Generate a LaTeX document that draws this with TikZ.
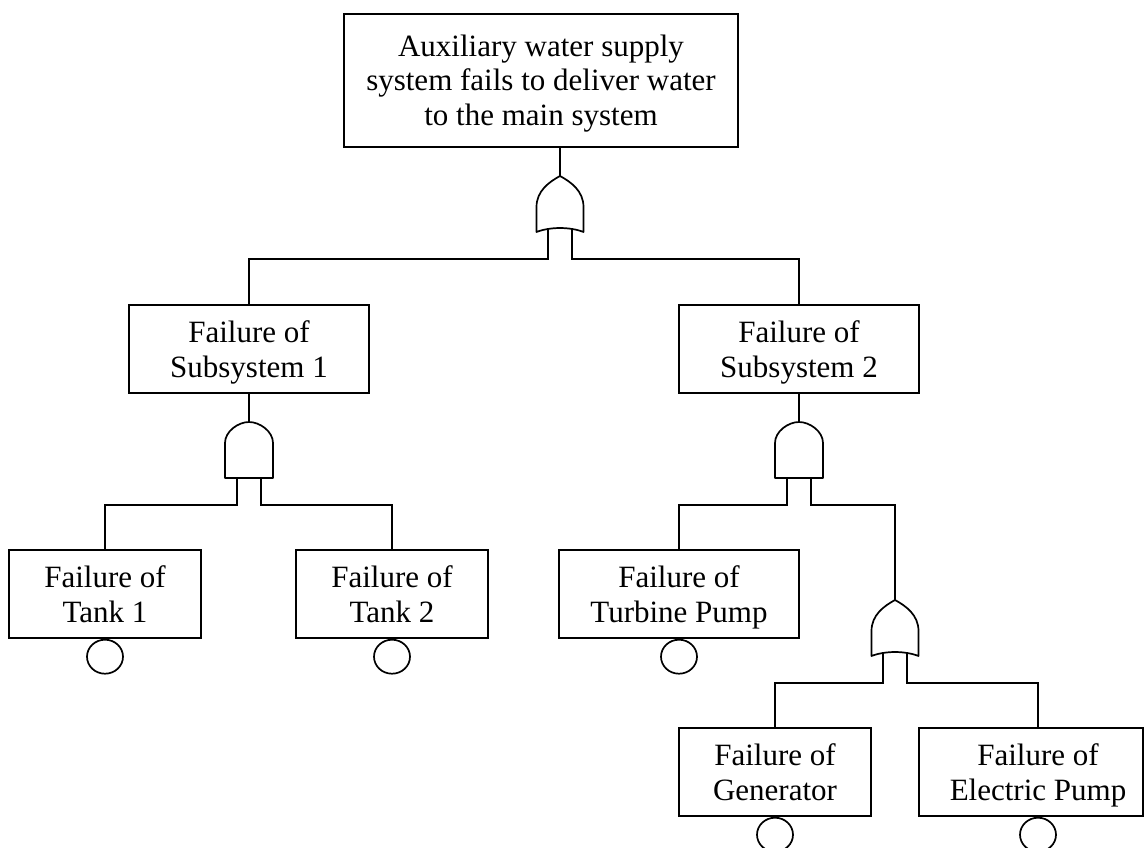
\documentclass[tikz,border=0pt]{standalone}
\usepackage{fontspec}
\setmainfont{Liberation Serif}
\usetikzlibrary{shapes.geometric}
\newcommand{\ls}{\rule[-7pt]{0pt}{35pt}}
\tikzset{
  ev/.style={draw, line width=1.7pt, align=center, inner sep=0pt,
    minimum height=88pt, font=\fontsize{31}{35}\selectfont},
  evtext/.style={align=center, inner sep=0pt, font=\fontsize{31}{35}\selectfont},
  wire/.style={line width=1.7pt},
  gateshape/.style={draw, line width=1.7pt, fill=white, line join=round},
  basic/.style={draw, ellipse, line width=1.7pt, minimum width=36pt,
    minimum height=34pt, inner sep=0pt, anchor=north},
}
\newcommand{\orgate}[3]{% name, cx, ty
  \coordinate (#1tip) at (#2,#3);
  \coordinate (#1l) at (#2-12,#3+53);
  \coordinate (#1r) at (#2+12,#3+53);
  \draw[wire] (#1l) -- ++(0,10);
  \draw[wire] (#1r) -- ++(0,10);
  \draw[gateshape] (#2-23.5,#3+56) -- (#2-23.5,#3+31)
    .. controls (#2-23.5,#3+15) and (#2-11,#3+6) .. (#2,#3)
    .. controls (#2+11,#3+6) and (#2+23.5,#3+15) .. (#2+23.5,#3+31)
    -- (#2+23.5,#3+56)
    .. controls (#2+10,#3+50.7) and (#2-10,#3+50.7) .. cycle;
}
\newcommand{\andgate}[3]{% name, cx, ty
  \coordinate (#1tip) at (#2,#3);
  \coordinate (#1l) at (#2-12,#3+56);
  \coordinate (#1r) at (#2+12,#3+56);
  \draw[gateshape] (#2-24,#3+56) -- (#2-24,#3+21)
    .. controls (#2-24,#3+9.4) and (#2-10.8,#3) .. (#2,#3)
    .. controls (#2+10.8,#3) and (#2+24,#3+9.4) .. (#2+24,#3+21)
    -- (#2+24,#3+56) -- cycle;
}
\begin{document}
\begin{tikzpicture}[x=1pt,y=-1pt]
\useasboundingbox (0,0) rectangle (1146,848);
% events
\node[ev, minimum width=394pt, minimum height=133pt] (top) at (541,80.5)
  {\ls Auxiliary water supply\\\ls system fails to deliver water\\\ls to the main system};
\node[ev, minimum width=240pt] (sub1) at (249,349) {\ls Failure of\\\ls Subsystem 1};
\node[ev, minimum width=240pt] (sub2) at (799,349) {\ls Failure of\\\ls Subsystem 2};
\node[ev, minimum width=192pt] (tank1) at (105,594) {\ls Failure of\\\ls Tank 1};
\node[ev, minimum width=192pt] (tank2) at (392,594) {\ls Failure of\\\ls Tank 2};
\node[ev, minimum width=240pt] (turb) at (679,594) {\ls Failure of\\\ls Turbine Pump};
\node[ev, minimum width=192pt] (gen) at (775,772) {\ls Failure of\\\ls Generator};
\node[ev, minimum width=224pt] (elec) at (1031,772) {};
\node[evtext] (electext) at (1038,772) {\ls Failure of\\\ls Electric Pump};
% basic event circles
\node[basic] (c1) at (tank1.south) {};
\node[basic] (c2) at (tank2.south) {};
\node[basic] (c3) at (turb.south) {};
\node[basic] (c4) at (gen.south) {};
\node[basic] (c5) at (elec.south -| electext) {};
% gates
\orgate{g1}{560}{176}
\andgate{a1}{249}{422}
\andgate{a2}{799}{422}
\orgate{o2}{895}{600}
% connectors
\draw[wire] (top.south -| g1tip) -- (g1tip);
\draw[wire] (g1l) -- ++(0,30) -| (sub1.north);
\draw[wire] (g1r) -- ++(0,30) -| (sub2.north);
\draw[wire] (sub1.south) -- (a1tip);
\draw[wire] (sub2.south) -- (a2tip);
\draw[wire] (a1l) -- ++(0,27) -| (tank1.north);
\draw[wire] (a1r) -- ++(0,27) -| (tank2.north);
\draw[wire] (a2l) -- ++(0,27) -| (turb.north);
\draw[wire] (a2r) -- ++(0,27) -| (o2tip);
\draw[wire] (o2l) -- ++(0,30) -| (gen.north);
\draw[wire] (o2r) -- ++(0,30) -| (elec.north -| electext);
\end{tikzpicture}
\end{document}
